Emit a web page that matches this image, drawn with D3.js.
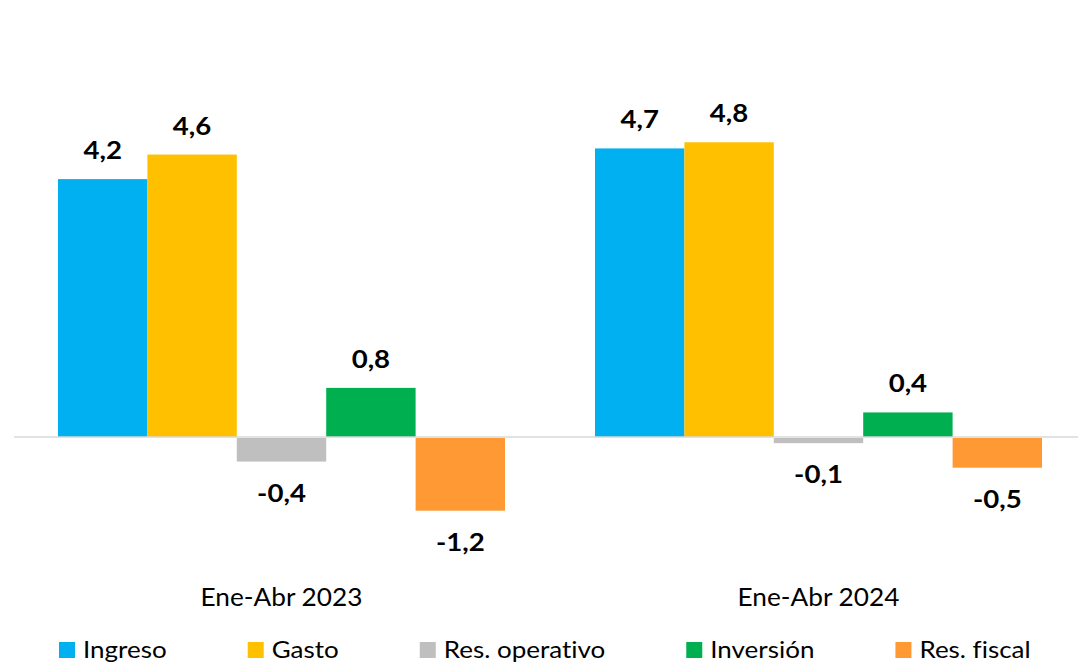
<!DOCTYPE html>
<html>
<head>
<meta charset="utf-8">
<script src="https://cdn.jsdelivr.net/npm/d3@7"></script>
<style>
  html, body { margin: 0; padding: 0; background: #ffffff; }
  svg { display: block; font-family: Lato, "Open Sans", sans-serif; font-variant-ligatures: none; font-feature-settings: "liga" 0, "clig" 0; }
</style>
</head>
<body>
<svg id="chart" width="1078" height="664"></svg>
<script>
// ---- data ----
const categories = ["Ene-Abr 2023", "Ene-Abr 2024"];
const seriesNames = ["Ingreso", "Gasto", "Res. operativo", "Inversión", "Res. fiscal"];
const seriesColors = ["#00B0F0", "#FFC000", "#BFBFBF", "#00B050", "#FF9933"];
const ingreso = [4.2, 4.7];
const gasto = [4.6, 4.8];
const resOperativo = [-0.4, -0.1];
const inversion = [0.8, 0.4];
const resFiscal = [-1.2, -0.5];
const seriesValues = [ingreso, gasto, resOperativo, inversion, resFiscal];

// ---- layout ----
const svg = d3.select("#chart");
const zeroY = 437;
const pxPerUnit = 61.4;

const y = d3.scaleLinear()
  .domain([-1.2, 4.8])
  .range([zeroY + 1.2 * pxPerUnit, zeroY - 4.8 * pxPerUnit]);

const x0 = d3.scaleBand()
  .domain(categories)
  .range([13, 1087])
  .paddingInner(90 / 537)
  .paddingOuter(45 / 537);

const x1 = d3.scaleBand()
  .domain(seriesNames)
  .range([0, x0.bandwidth()])
  .padding(0);

const locale = d3.formatLocale({ decimal: ",", thousands: ".", grouping: [3], currency: ["", ""], minus: "-" });
const fmt = locale.format(".1f");

const rows = [];
categories.forEach((c, ci) => {
  seriesNames.forEach((s, si) => {
    rows.push({ cat: c, series: s, value: seriesValues[si][ci], color: seriesColors[si] });
  });
});

const g = svg.append("g");

g.selectAll("rect.bar")
  .data(rows)
  .join("rect")
  .attr("class", "bar")
  .attr("x", d => x0(d.cat) + x1(d.series))
  .attr("width", x1.bandwidth())
  .attr("y", d => d.value >= 0 ? y(d.value) : y(0) + 1)
  .attr("height", d => d.value >= 0 ? y(0) - y(d.value) : y(d.value) - y(0) - 1)
  .attr("fill", d => d.color);

// zero line
g.append("line")
  .attr("x1", 14).attr("x2", 1078)
  .attr("y1", y(0)).attr("y2", y(0))
  .attr("stroke", "#D9D9D9")
  .attr("stroke-width", 1.5);

// value labels
g.selectAll("text.val")
  .data(rows)
  .join("text")
  .attr("class", "val")
  .attr("transform", d => {
    const cx = x0(d.cat) + x1(d.series) + x1.bandwidth() / 2;
    const cy = d.value >= 0 ? y(d.value) - 20 : y(d.value) + 40;
    return `translate(${cx},${cy}) scale(1.15,1)`;
  })
  .attr("text-anchor", "middle")
  .attr("font-size", 24)
  .attr("font-weight", "bold")
  .attr("fill", "#000")
  .text(d => fmt(d.value));

// category labels
g.selectAll("text.cat")
  .data(categories)
  .join("text")
  .attr("class", "cat")
  .attr("transform", d => `translate(${x0(d) + x0.bandwidth() / 2},606) scale(1.07,1)`)
  .attr("text-anchor", "middle")
  .attr("font-size", 24.5)
  .attr("fill", "#000")
  .text(d => d);

// legend
const legSx = 1.13;
const leg = g.selectAll("g.leg")
  .data(seriesNames)
  .join("g")
  .attr("class", "leg");
leg.append("rect")
  .attr("width", 16).attr("height", 16)
  .attr("fill", (d, i) => seriesColors[i]);
leg.append("text")
  .attr("transform", `translate(24,16) scale(${legSx},1)`)
  .attr("font-size", 23)
  .attr("fill", "#000")
  .text(d => d);
let lx = 59;
leg.each(function () {
  const node = d3.select(this);
  node.attr("transform", `translate(${lx},642)`);
  const w = node.select("text").node().getComputedTextLength() * legSx;
  lx += 24 + w + 81;
});
</script>
</body>
</html>
